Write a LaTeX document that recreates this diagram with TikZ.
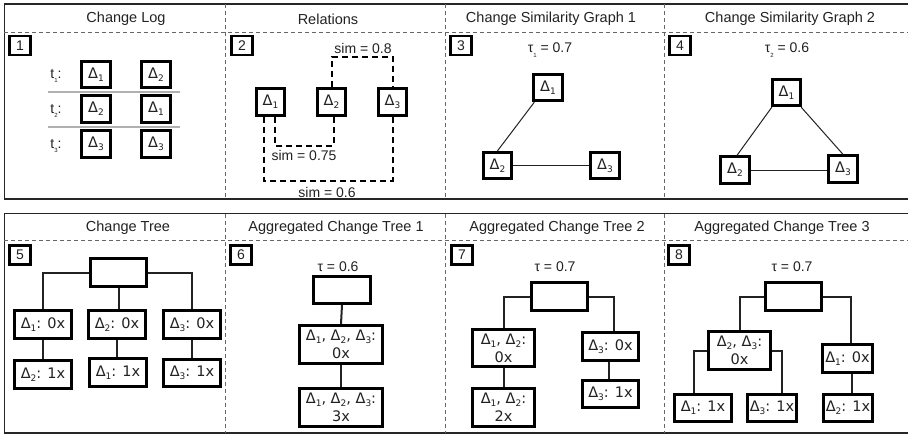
\documentclass[tikz,border=0pt]{standalone}
\usepackage{fontspec}
\setmainfont{Liberation Sans}
\newfontfamily\dvfont{DejaVu Sans}
\newcommand\dsub[1]{\raisebox{-0.22em}{\fontsize{9}{9}\selectfont #1}}
\newcommand\dl[1]{Δ\dsub{#1}}
\newcommand\tsub[1]{\raisebox{-0.35em}{\fontsize{6}{6}\selectfont #1}}
\definecolor{ink}{HTML}{222222}
\definecolor{divgray}{HTML}{666666}
\definecolor{sepgray}{HTML}{B0B0B0}
\tikzset{
  title/.style={font=\fontsize{14.5}{16}\selectfont, text=ink, inner sep=0},
  lbl/.style={font=\fontsize{14}{16}\selectfont, text=ink, inner sep=0},
  numbox/.style={draw=black, line width=2.8pt, fill=white, minimum width=21.5, minimum height=19, inner sep=0, font=\fontsize{14}{16}\selectfont, text=ink},
  dbox/.style={draw=black, line width=2.8pt, fill=white, minimum width=28.5, minimum height=26.5, inner sep=0, font=\dvfont\fontsize{14.5}{16}\selectfont, text=ink},
  tbox/.style={draw=black, line width=2.8pt, fill=white, minimum width=56.5, minimum height=27.5, inner sep=0, align=center, font=\dvfont\fontsize{14.5}{18}\selectfont, text=ink},
  conn/.style={draw=ink, line width=2pt},
  thin/.style={draw=ink, line width=1pt},
  simline/.style={draw=black, line width=2pt, dash pattern=on 6pt off 4pt},
  divline/.style={draw=divgray, line width=1pt, dash pattern=on 4pt off 3pt},
  frame/.style={draw=black!85, line width=1.3pt},
}
\begin{document}
\begin{tikzpicture}[x=1pt,y=-1pt]
\path[use as bounding box, fill=white] (0,0) rectangle (908,434);
% ---------- top panel frame ----------
\draw[draw=black!85, line width=2.5pt] (4,4) -- (908,4);
\draw[frame] (4,199) -- (908,199);
\draw[frame] (4.5,4) -- (4.5,199);
\draw[divline] (4,32) -- (908,32);
\draw[divline] (225,4) -- (225,199);
\draw[divline] (445,4) -- (445,199);
\draw[divline] (664,4) -- (664,199);
% ---------- bottom panel frame ----------
\draw[frame] (4,213.5) -- (908,213.5);
\draw[frame] (4,433) -- (908,433);
\draw[frame] (4.5,213.5) -- (4.5,433);
\draw[divline] (4,240) -- (908,240);
\draw[divline] (225,213.5) -- (225,433);
\draw[divline] (445,213.5) -- (445,433);
\draw[divline] (664,213.5) -- (664,433);
% titles
\node[title] (h1) at (126,19) {Change Log};
\node[title] (h2) at (328,19) {Relations};
\node[title] (h3) at (551,19) {Change Similarity Graph 1};
\node[title] (h4) at (790,19) {Change Similarity Graph 2};
\node[title] (h5) at (128,228) {Change Tree};
\node[title] (h6) at (336,228) {Aggregated Change Tree 1};
\node[title] (h7) at (557,228) {Aggregated Change Tree 2};
\node[title] (h8) at (782,228) {Aggregated Change Tree 3};
% number boxes
\node[numbox] (n1) at (20,45.5) {1};
\node[numbox] (n2) at (242,45.5) {2};
\node[numbox] (n3) at (461,45.5) {3};
\node[numbox] (n4) at (680,45.5) {4};
\node[numbox] (n5) at (20,255) {5};
\node[numbox] (n6) at (241,255) {6};
\node[numbox] (n7) at (462,255) {7};
\node[numbox] (n8) at (679,255) {8};
% ---------- panel 1 ----------
\draw[draw=sepgray, line width=1.5pt] (48,92) -- (180,92);
\draw[draw=sepgray, line width=1.5pt] (48,127) -- (180,127);
\node[lbl] (t1) at (56,76) {t\tsub{1}:};
\node[lbl] (t2) at (56,111) {t\tsub{2}:};
\node[lbl] (t3) at (56,146) {t\tsub{3}:};
\node[dbox] (l11) at (96,74.5) {\dl{1}};
\node[dbox] (l12) at (156,74.5) {\dl{2}};
\node[dbox] (l21) at (96,109) {\dl{2}};
\node[dbox] (l22) at (156,109) {\dl{1}};
\node[dbox] (l31) at (96,144) {\dl{3}};
\node[dbox] (l32) at (156,144) {\dl{3}};
% ---------- panel 2 ----------
\node[dbox] (r1) at (270.5,102) {\dl{1}};
\node[dbox] (r2) at (331.5,102) {\dl{2}};
\node[dbox] (r3) at (392.5,102) {\dl{3}};
\draw[simline] (r2.north) -- ++(0,-30) -| (r3.north);
\draw[simline] ([xshift=4.5]r1.south) -- ++(0,29) -| ([xshift=2]r2.south);
\draw[simline] ([xshift=-6.5]r1.south) -- ++(0,64) -| (r3.south);
\node[lbl] (s1) at (363,48) {sim = 0.8};
\node[lbl] (s2) at (304,155) {sim = 0.75};
\node[lbl] (s3) at (327,192) {sim = 0.6};
% ---------- panel 3 ----------
\node[lbl] (tau1) at (550,50) {τ\tsub{1} = 0.7};
\node[dbox] (ga1) at (548,87.5) {\dl{1}};
\node[dbox] (ga2) at (497.5,165.5) {\dl{2}};
\node[dbox] (ga3) at (605,165.5) {\dl{3}};
\draw[thin] ([xshift=2]ga1.south west) -- (ga2.north);
\draw[thin] (ga2) -- (ga3);
% ---------- panel 4 ----------
\node[lbl] (tau2) at (787,50) {τ\tsub{2} = 0.6};
\node[dbox] (gb1) at (786.5,92.5) {\dl{1}};
\node[dbox] (gb2) at (735,170) {\dl{2}};
\node[dbox] (gb3) at (843,169) {\dl{3}};
\draw[thin] ([xshift=1]gb1.south west) -- ([xshift=2]gb2.north);
\draw[thin] ([xshift=-1]gb1.south east) -- (gb3.north);
\draw[thin] (gb2.east) -- (gb3.west |- gb2.east);
% ---------- panel 5 ----------
\node[tbox] (t5) at (118.5,272.5) {};
\node[tbox] (c5a) at (43,324.5) {\dl{1}: 0x};
\node[tbox] (c5b) at (117,324.5) {\dl{2}: 0x};
\node[tbox] (c5c) at (192,324.5) {\dl{3}: 0x};
\node[tbox] (g5a) at (43,374.5) {\dl{2}: 1x};
\node[tbox] (g5b) at (118,372.5) {\dl{1}: 1x};
\node[tbox] (g5c) at (192,373) {\dl{3}: 1x};
\draw[conn] (t5.west) -| (c5a.north);
\draw[conn] (t5.east) -| (c5c.north);
\draw[conn] (t5.south) -- (t5.south |- c5b.north);
\draw[conn] (c5a.south) -- (g5a.north);
\draw[conn] (c5b.south) -- (c5b.south |- g5b.north);
\draw[conn] (c5c.south) -- (g5c.north);
% ---------- panel 6 ----------
\node[lbl] (tau6) at (338,267) {τ = 0.6};
\node[tbox] (t6) at (342,290) {};
\node[tbox, minimum width=82.5, minimum height=38.5] (c6) at (341,344.5) {\dl{1}, \dl{2}, \dl{3}:\\0x};
\node[tbox, minimum width=82.5, minimum height=38.5] (g6) at (341,407.5) {\dl{1}, \dl{2}, \dl{3}:\\3x};
\draw[conn] (t6.south) -- (c6.north);
\draw[conn] (c6.south) -- (g6.north);
% ---------- panel 7 ----------
\node[lbl] (tau7) at (555,267) {τ = 0.7};
\node[tbox] (t7) at (559.5,296.5) {};
\node[tbox, minimum width=62.5, minimum height=37.5] (c7a) at (503.5,348) {\dl{1}, \dl{2}:\\0x};
\node[tbox] (c7b) at (610.5,346.5) {\dl{3}: 0x};
\node[tbox, minimum width=62.5, minimum height=38.5] (g7a) at (503.5,407.5) {\dl{1}, \dl{2}:\\2x};
\node[tbox] (g7b) at (610.5,394) {\dl{3}: 1x};
\draw[conn] (t7.west) -| (c7a.north);
\draw[conn] (t7.east) -| ([xshift=3.5]c7b.north);
\draw[conn] (c7a.south) -- (g7a.north);
\draw[conn] ([xshift=-1.5]c7b.south) -- ([xshift=-1.5]g7b.north);
% ---------- panel 8 ----------
\node[lbl] (tau8) at (792,267) {τ = 0.7};
\node[tbox] (t8) at (793.5,296.5) {};
\node[tbox, minimum width=62.5, minimum height=38.5] (c8a) at (739.5,350.5) {\dl{2}, \dl{3}:\\0x};
\node[tbox, minimum width=50.5] (c8b) at (847.5,358.5) {\dl{1}: 0x};
\node[tbox] (g8a) at (703,408) {\dl{1}: 1x};
\node[tbox, minimum width=49.5] (g8b) at (772,408) {\dl{3}: 1x};
\node[tbox, minimum width=49.5] (g8c) at (848,408) {\dl{2}: 1x};
\draw[conn] (t8.west) -| (c8a.north);
\draw[conn] (t8.east) -| ([xshift=3.5]c8b.north);
\draw[conn] (c8a.west) -| ([xshift=-9]g8a.north);
\draw[conn] (c8a.east) -| ([xshift=10]g8b.north);
\draw[conn] ([xshift=4]c8b.south) -- ([xshift=4]c8b.south |- g8c.north);
\end{tikzpicture}
\end{document}
